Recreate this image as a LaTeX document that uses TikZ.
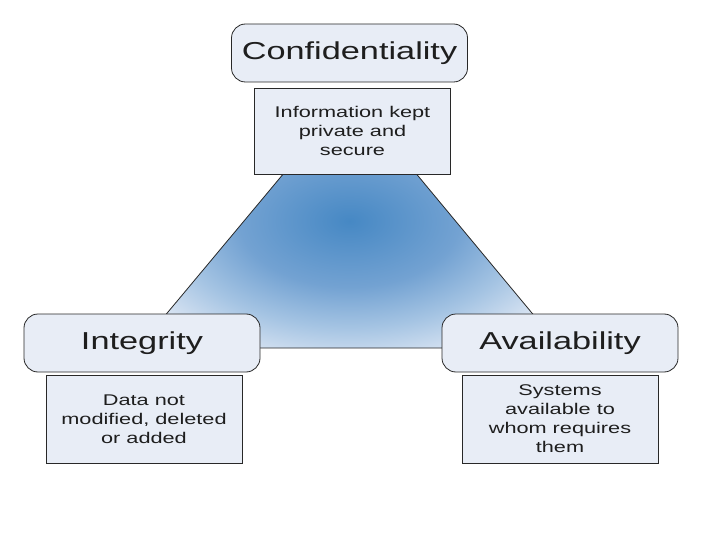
\documentclass[tikz,border=0pt]{standalone}
\usepackage{fontspec}
\setmainfont{Liberation Sans}[FakeStretch=1.4]
\definecolor{boxfill}{RGB}{232,237,246}
\definecolor{txt}{RGB}{30,30,30}
\definecolor{edge}{RGB}{40,40,40}
\definecolor{shcA}{RGB}{70,136,196}
\definecolor{shcB}{RGB}{115,162,210}
\definecolor{shcC}{RGB}{165,196,227}
\definecolor{shcD}{RGB}{236,240,248}
\pgfdeclareradialshading{trishade}{\pgfpoint{0bp}{0bp}}{color(0bp)=(shcA); color(13bp)=(shcB); color(21bp)=(shcC); color(31bp)=(shcD); color(50bp)=(shcD)}
\tikzset{
  titlebox/.style={draw=edge, line width=0.8pt, fill=boxfill, rounded corners=14pt,
    minimum width=236pt, minimum height=58pt, inner sep=0pt, text=txt,
    font=\fontsize{24.5}{28}\selectfont},
  descbox/.style={draw=edge, line width=0.8pt, fill=boxfill,
    minimum width=196pt, minimum height=87pt, inner sep=0pt, text=txt, align=center,
    font=\fontsize{15.5}{19}\selectfont},
  triedge/.style={draw=edge, line width=0.8pt, shading=trishade}
}
\begin{document}
\begin{tikzpicture}[x=1pt,y=-1pt]
\useasboundingbox (0,0) rectangle (720,540);
\coordinate (apex) at (350,94);
\coordinate (bl) at (138,348);
\coordinate (br) at (561,348);
\path[triedge] (apex) -- (bl) -- (br) -- cycle;
\node[titlebox] (conf) at (349.5,53) {Confidentiality};
\node[descbox, minimum height=86pt] (info) at (352.5,131) {Information kept\\private and\\secure};
\node[titlebox] (integ) at (142,343) {Integrity};
\node[descbox, minimum height=88pt] (data) at (144,419) {Data not\\modified, deleted\\or added};
\node[titlebox] (avail) at (560,343) {Availability};
\node[descbox, minimum height=88pt] (sys) at (560,419) {Systems\\available to\\whom requires\\them};
\end{tikzpicture}
\end{document}
